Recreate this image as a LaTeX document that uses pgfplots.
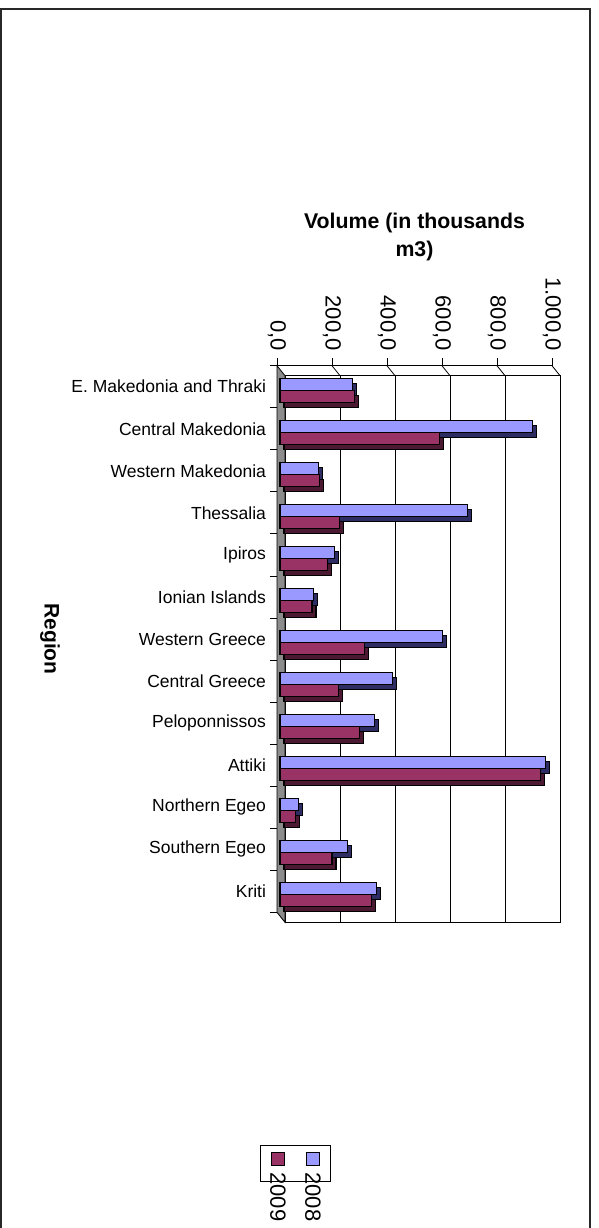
\documentclass[border=0pt]{standalone}
\usepackage{pgfplots}
\usepackage{pgfplotstable}
\usepackage{graphicx}
\pgfplotsset{compat=1.18}
\usepackage{fontspec}
\setmainfont{Liberation Sans}
\definecolor{c2008}{RGB}{153,153,255}
\definecolor{c2009}{RGB}{153,51,102}
\definecolor{s2008}{RGB}{45,45,100}
\definecolor{s2009}{RGB}{75,25,50}
\definecolor{wallgray}{RGB}{140,140,140}
\definecolor{framegray}{RGB}{40,40,40}
\newcommand{\legentry}[2]{\vbox{\offinterlineskip\hbox to 16pt{\hfil\setlength{\fboxsep}{0pt}\setlength{\fboxrule}{1pt}\fcolorbox{black}{#1}{\rule{0pt}{12pt}\rule{12pt}{0pt}}\hfil}\vskip6pt\hbox to 16pt{\hfil\rotatebox{-90}{#2}\hfil}}}
\pgfplotstableread{
y v2008 v2009
12 264 271
11 917 581
10 141 144
9 683 217
8 199 173
7 123 116
6 592 307
5 410 212
4 345 290
3 965 948
2 67 56
1 244 189
0 350 332
}\datatable
\begin{document}
\begin{tikzpicture}
\useasboundingbox (0,0) rectangle (598pt,-1228pt);
\clip (0,0) rectangle (598pt,-1228pt);
\draw[line width=1.5pt, draw=framegray] (1pt,-1240pt) -- (1pt,-9pt) -- (590pt,-9pt) -- (590pt,-1240pt);
\begin{axis}[
  at={(277pt,-912.3pt)}, anchor=south west,
  scale only axis, width=275pt, height=546.6pt,
  xmin=0, xmax=1000, ymin=-0.5, ymax=12.5,
  clip=false,
  axis x line*=top, axis y line*=left,
  axis line style={black, line width=0.8pt},
  tick align=outside,
  major tick length=7.5pt,
  tick style={black, line width=0.8pt},
  xtick={0,200,400,600,800,1000},
  xticklabels={{0,0},{200,0},{400,0},{600,0},{800,0},{1.000,0}},
  xticklabel style={rotate=-90, anchor=east, font=\fontsize{22}{26}\selectfont},
  xticklabel shift=4pt,
  ytick={-0.5,0.5,1.5,2.5,3.5,4.5,5.5,6.5,7.5,8.5,9.5,10.5,11.5,12.5},
  yticklabels={},
  extra y ticks={0,1,2,3,4,5,6,7,8,9,10,11,12},
  extra y tick labels={Kriti,Southern Egeo,Northern Egeo,Attiki,Peloponnissos,Central Greece,Western Greece,Ionian Islands,Ipiros,Thessalia,Western Makedonia,Central Makedonia,E. Makedonia and Thraki},
  extra y tick style={tick style={draw=none}},
  yticklabel style={font=\fontsize{17.5}{21}\selectfont},
  xmajorgrids,
  grid style={black, line width=0.8pt, xshift=8pt, yshift=-10pt},
  title={Volume (in thousands\\m3)},
  title style={at={(0.5,1.2245)}, anchor=center, align=center, font=\bfseries\fontsize{21.3}{28}\selectfont},
  ylabel={Region},
  ylabel style={at={(axis description cs:-0.8255,0.5)}, rotate=180, anchor=center, font=\bfseries\fontsize{21}{25}\selectfont},
  legend columns=2,
  legend style={at={(-0.0618,-0.4257)}, anchor=north west, draw=black, line width=0.8pt, font=\fontsize{22}{26}\selectfont, inner xsep=9.5pt, inner ysep=7pt, nodes={inner sep=0pt}, /tikz/every even column/.append style={column sep=19pt}},
]
\addlegendimage{empty legend}
\addlegendimage{empty legend}
% back wall edges
\draw[black, line width=0.8pt] ([shift={(8pt,-10pt)}]axis cs:0,12.5) -- ([shift={(8pt,-10pt)}]axis cs:1000,12.5) -- ([shift={(8pt,-10pt)}]axis cs:1000,-0.5) -- ([shift={(8pt,-10pt)}]axis cs:0,-0.5);
% left wall
\filldraw[fill=wallgray, draw=black, line width=0.8pt] (axis cs:0,12.5) -- ([shift={(8pt,-10pt)}]axis cs:0,12.5) -- ([shift={(8pt,-10pt)}]axis cs:0,-0.5) -- (axis cs:0,-0.5) -- cycle;
\pgfplotsinvokeforeach{200,400,600,800,1000}{
  \draw[black, line width=0.8pt] (axis cs:#1,12.5) -- ([shift={(8pt,-10pt)}]axis cs:#1,12.5);
}
\draw[black, line width=0.8pt] (axis cs:0,12.5) -- (axis cs:1000,12.5);
% bar depth (side faces)
\addplot[xbar, bar width=12pt, bar shift=6pt, fill=s2008, draw=black, line width=1.2pt, xshift=7pt, yshift=-8.5pt, forget plot] table[x=v2008,y=y]{\datatable};
\addplot[xbar, bar width=12pt, bar shift=-6pt, fill=s2009, draw=black, line width=1.2pt, xshift=7pt, yshift=-8.5pt, forget plot] table[x=v2009,y=y]{\datatable};
% bar fronts
\addplot[xbar, bar width=12pt, bar shift=6pt, fill=c2008, draw=black, line width=1.2pt, xshift=3pt, yshift=-3.5pt, forget plot] table[x=v2008,y=y]{\datatable};
\addplot[xbar, bar width=12pt, bar shift=-6pt, fill=c2009, draw=black, line width=1.2pt, xshift=3pt, yshift=-3.5pt, forget plot] table[x=v2009,y=y]{\datatable};
\legend{\legentry{c2009}{2009},\legentry{c2008}{2008}}
\end{axis}
\end{tikzpicture}
\end{document}
